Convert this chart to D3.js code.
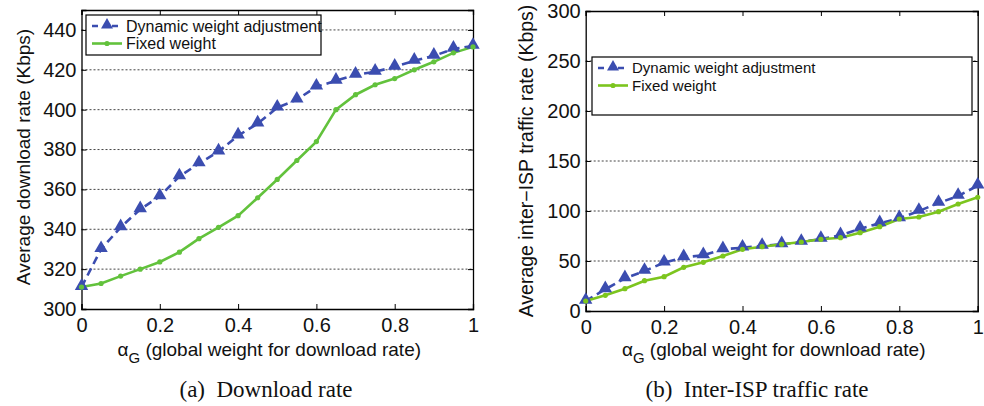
<!DOCTYPE html>
<html lang="en">
    <head>
        <meta charset="utf-8">
        <title>Download rate and inter-ISP traffic rate vs alpha_G</title>
        <script type="text/javascript" src="https://cdn.jsdelivr.net/npm/d3@7"></script>
        <style type="text/css">
            body { margin: 0; background: #fff; }
            text { font-family: "Liberation Sans", Arial, sans-serif; fill: #111; }
            .caption { font-family: "Liberation Serif", "Times New Roman", serif; white-space: pre; }
        </style>
    </head>

    <body>
        <script type="text/javascript">
            // Data
            var alphaG = [0, 0.05, 0.1, 0.15, 0.2, 0.25, 0.3, 0.35, 0.4, 0.45, 0.5,
                          0.55, 0.6, 0.65, 0.7, 0.75, 0.8, 0.85, 0.9, 0.95, 1];

            // (a) average download rate (Kbps)
            var downDynamic = [311, 330, 341, 350, 356.5, 366.5, 373, 379, 387, 393, 401,
                               405, 411.5, 414.5, 417.5, 419, 421.5, 424.5, 427, 430.5, 432];
            var downFixed = [311, 312.8, 316.5, 320, 323.6, 328.5, 335.3, 341, 346.8, 355.8, 365,
                             374.5, 384, 400, 407.5, 412.5, 415.6, 420, 424, 428.5, 431.5];

            // (b) average inter-ISP traffic rate (Kbps)
            var ispDynamic = [10, 21.7, 32.7, 40, 48.3, 53.7, 55.7, 61.7, 63.3, 65, 66.7,
                              69, 72, 75.7, 82.3, 87.7, 92.7, 100, 108, 115, 125.3];
            var ispFixed = [10, 15.7, 22.3, 30.3, 34.3, 43.7, 48.7, 55, 61.7, 64.3, 66.7,
                            69, 71.7, 73.3, 78.3, 84.3, 92, 94, 99.3, 107, 113.7];

            var xTicks = [0, 0.2, 0.4, 0.6, 0.8, 1];
            var downTicks = [300, 320, 340, 360, 380, 400, 420, 440];
            var ispTicks = [0, 50, 100, 150, 200, 250, 300];

            var seriesNames = ["Dynamic weight adjustment", "Fixed weight"];

            var w = 984;
            var h = 406;
            var svg = d3.select("body")
                        .append("svg")
                        .attr("width", w)
                        .attr("height", h);

            var blue = "#3b4db0";

            function drawPanel(p) {
                var xScale = d3.scaleLinear().domain([0, 1]).range([p.left, p.right]);
                var yScale = d3.scaleLinear().domain(p.yDomain).range([p.bottom, p.top]);
                var g = svg.append("g");

                // dotted horizontal grid
                g.selectAll("line.grid")
                    .data(p.yTicks.filter(function(d) { return d > p.yDomain[0] && d < p.yDomain[1]; }))
                    .enter()
                    .append("line")
                    .attr("class", "grid")
                    .attr("x1", p.left).attr("x2", p.right)
                    .attr("y1", function(d) { return yScale(d); })
                    .attr("y2", function(d) { return yScale(d); })
                    .attr("stroke", "#444")
                    .attr("stroke-width", 1)
                    .attr("stroke-dasharray", "2,2");

                // axes with inward ticks, on all four sides
                var xAxis = d3.axisBottom(xScale).tickValues(xTicks).tickSize(-5).tickPadding(9)
                                .tickFormat(function(d) { return d === 0 || d === 1 ? d : d.toFixed(1); });
                var yAxis = d3.axisLeft(yScale).tickValues(p.yTicks).tickSize(-5).tickPadding(5);
                var xTop = d3.axisTop(xScale).tickValues(xTicks).tickSize(-5).tickFormat("");
                var yRight = d3.axisRight(yScale).tickValues(p.yTicks).tickSize(-5).tickFormat("");

                [
                    [xAxis, "translate(0," + p.bottom + ")"],
                    [yAxis, "translate(" + p.left + ",0)"],
                    [xTop, "translate(0," + p.top + ")"],
                    [yRight, "translate(" + p.right + ",0)"]
                ].forEach(function(a) {
                    var ax = g.append("g")
                        .attr("class", "axis")
                        .attr("transform", a[1])
                        .call(a[0]);
                    ax.select(".domain").attr("stroke", "#000").attr("stroke-width", 1.3);
                    ax.selectAll(".tick line").attr("stroke", "#000");
                    ax.selectAll("text")
                        .attr("font-family", "Liberation Sans, Arial, sans-serif")
                        .attr("font-size", "20px")
                        .attr("fill", "#111");
                });

                // lines
                var line = d3.line()
                    .x(function(d) { return xScale(d[0]); })
                    .y(function(d) { return yScale(d[1]); });

                var dyn = d3.zip(alphaG, p.dynamic);
                var fix = d3.zip(alphaG, p.fixed);

                g.append("path")
                    .datum(dyn)
                    .attr("d", line)
                    .attr("fill", "none")
                    .attr("stroke", blue)
                    .attr("stroke-width", 2.6)
                    .attr("stroke-dasharray", "8,5");

                g.append("path")
                    .datum(fix)
                    .attr("d", line)
                    .attr("fill", "none")
                    .attr("stroke", p.green)
                    .attr("stroke-width", 2.6);

                var tri = d3.symbol().type(d3.symbolTriangle).size(78);
                g.selectAll("path.tri")
                    .data(dyn)
                    .enter()
                    .append("path")
                    .attr("class", "tri")
                    .attr("d", tri)
                    .attr("transform", function(d) {
                        return "translate(" + xScale(d[0]) + "," + (yScale(d[1]) - 1) + ")";
                    })
                    .attr("fill", blue);

                g.selectAll("circle.dot")
                    .data(fix)
                    .enter()
                    .append("circle")
                    .attr("class", "dot")
                    .attr("cx", function(d) { return xScale(d[0]); })
                    .attr("cy", function(d) { return yScale(d[1]); })
                    .attr("r", 2.6)
                    .attr("fill", p.green);

                // legend
                var lg = p.legend;
                g.append("rect")
                    .attr("x", lg.x).attr("y", lg.y)
                    .attr("width", lg.w).attr("height", lg.h)
                    .attr("fill", "#fff")
                    .attr("stroke", "#000")
                    .attr("stroke-width", 1.2);

                var legTri = d3.symbol().type(d3.symbolTriangle).size(62);
                seriesNames.forEach(function(name, i) {
                    var cy = lg.y + lg.row0 + i * lg.rowGap;
                    var x0 = lg.x + 6;
                    var x1 = x0 + 30;
                    if (i === 0) {
                        g.append("line")
                            .attr("x1", x0).attr("x2", x1)
                            .attr("y1", cy).attr("y2", cy)
                            .attr("stroke", blue).attr("stroke-width", 2.6)
                            .attr("stroke-dasharray", "6,4,0,10,6");
                        g.append("path")
                            .attr("d", legTri)
                            .attr("transform", "translate(" + (x0 + 15) + "," + (cy - 1) + ")")
                            .attr("fill", blue);
                    } else {
                        g.append("line")
                            .attr("x1", x0).attr("x2", x1)
                            .attr("y1", cy).attr("y2", cy)
                            .attr("stroke", p.green).attr("stroke-width", 2.6);
                        g.append("circle")
                            .attr("cx", x0 + 15).attr("cy", cy)
                            .attr("r", 2.6).attr("fill", p.green);
                    }
                    g.append("text")
                        .attr("x", x1 + 4)
                        .attr("y", cy)
                        .attr("dy", "0.36em")
                        .attr("font-size", lg.font + "px")
                        .text(name);
                });

                // y label
                g.append("text")
                    .attr("transform", "translate(" + p.yLabelX + "," + p.yLabelY + ") rotate(-90)")
                    .attr("text-anchor", "middle")
                    .attr("font-size", p.yLabelFont + "px")
                    .text(p.yLabel);

                // x label: alpha_G
                var xl = g.append("text")
                    .attr("x", (p.left + p.right) / 2 - 8)
                    .attr("y", 356)
                    .attr("text-anchor", "middle")
                    .attr("font-size", "19px");
                xl.append("tspan").text("\u03b1");
                xl.append("tspan").attr("dy", 7).attr("font-size", "15px").text("G");
                xl.append("tspan").attr("dy", -7).text(" (global weight for download rate)");

                // caption
                g.append("text")
                    .attr("class", "caption")
                    .attr("x", p.captionX)
                    .attr("y", 397)
                    .attr("text-anchor", "middle")
                    .attr("font-size", "23px")
                    .text(p.caption);
            }

            drawPanel({
                left: 81.5, right: 473, top: 10, bottom: 309,
                yDomain: [300, 450], yTicks: downTicks,
                dynamic: downDynamic, fixed: downFixed,
                green: "#62c23c",
                yLabel: "Average download rate (Kbps)", yLabelX: 30, yLabelY: 157, yLabelFont: 19,
                legend: { x: 86, y: 15, w: 235, h: 40, row0: 11, rowGap: 17.5, font: 16 },
                caption: "(a)  Download rate", captionX: 266
            });

            drawPanel({
                left: 585.7, right: 977.7, top: 11, bottom: 311,
                yDomain: [0, 300], yTicks: ispTicks,
                dynamic: ispDynamic, fixed: ispFixed,
                green: "#7cc51e",
                yLabel: "Average inter\u2212ISP traffic rate (Kbps)", yLabelX: 533, yLabelY: 161, yLabelFont: 19.5,
                legend: { x: 592, y: 57, w: 380, h: 58, row0: 11, rowGap: 17.5, font: 15 },
                caption: "(b)  Inter-ISP traffic rate", captionX: 757
            });
        </script>
    </body>
</html>
